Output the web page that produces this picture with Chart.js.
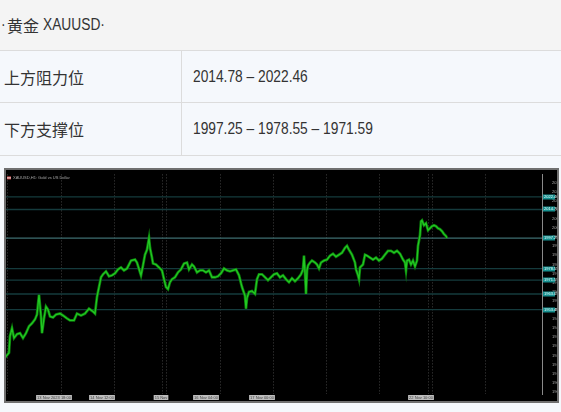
<!DOCTYPE html>
<html>
<head>
<meta charset="utf-8">
<script src="https://cdn.jsdelivr.net/npm/chart.js@4"></script>
<style>
body{margin:0;width:561px;height:412px;background:#f5f8fc;position:relative;overflow:hidden;color:#333;
  font-family:"Liberation Sans","Noto Sans CJK SC",sans-serif}
.row{position:absolute;left:0;width:561px;box-sizing:border-box;border-bottom:1px solid #dcdcdc}
.cell{position:absolute;top:0;bottom:0;display:flex;align-items:center;font-size:16px;white-space:nowrap}
.cjk{font-family:"Noto Sans CJK SC",sans-serif}
.lat{display:inline-block;transform:scaleX(.86);transform-origin:0 50%}
#box{position:absolute;left:4px;top:168px;width:555px;height:235px;box-sizing:border-box;border:2px solid #707070;background:#000}
#wrap{position:relative;width:551px;height:231px}
</style>
</head>
<body>
<div class="row" style="top:0;height:51px;background:#f4f4f4">
  <div class="cell" style="left:1px"><span class="lat" style="width:6px">·</span><span class="cjk">黄金&nbsp;</span><span class="lat">XAUUSD·</span></div>
</div>
<div class="row" style="top:51px;height:52px;background:#f5f8fc">
  <div class="cell cjk" style="left:4px">上方阻力位</div>
  <div class="cell" style="left:181px;border-left:1px solid #dcdcdc;padding-left:11px"><span class="lat">2014.78 – 2022.46</span></div>
</div>
<div class="row" style="top:103px;height:53px;background:#f5f8fc">
  <div class="cell cjk" style="left:4px">下方支撑位</div>
  <div class="cell" style="left:181px;border-left:1px solid #dcdcdc;padding-left:11px"><span class="lat">1997.25 – 1978.55 – 1971.59</span></div>
</div>
<div id="box"><div id="wrap"><canvas id="chart"></canvas></div></div>

<script>
// bar number on the time axis and close price of that bar
const bars = [5, 9, 10, 12, 14, 17, 20, 23, 26, 29, 32, 35, 37, 39, 41, 42, 44, 46, 48, 50,
  53, 56, 60, 63, 67, 70, 74, 77, 81, 85, 89, 93, 95, 97, 99, 101, 103, 106, 109, 112,
  115, 118, 121, 124, 127, 131, 135, 137, 141, 143, 145, 147, 149,
  150, 152, 153, 156, 159, 162, 164, 166, 168, 170, 172, 175, 178, 181, 184, 187, 189,
  192, 194, 197, 200, 203, 206, 209, 212, 215, 218, 221, 224, 227, 230, 233, 236, 239,
  242, 245, 246, 247, 249, 252, 255, 257, 259, 262, 265, 268, 271, 274, 277, 280, 283,
  286, 289, 292, 295, 298, 301, 303, 304, 305, 306, 307, 308, 310, 312, 315, 317, 319,
  321, 324, 327, 330, 333, 336, 339, 342, 345, 347, 349, 352, 355, 356, 358, 359, 360,
  363, 365, 367, 370, 373, 376, 379, 382, 385, 388, 391, 394, 397, 400, 403, 405, 406,
  407, 409, 411, 413, 415, 417, 418, 420, 421, 422, 424, 426, 428, 430, 432, 434, 436,
  438, 440, 442, 444, 446, 447];
const prices = [1924.1, 1927.1, 1937.3, 1942.1, 1936.1, 1938.5, 1939.1, 1936.1, 1939.1, 1943.3,
  1945.1, 1947.5, 1950.5, 1962.5, 1949.3, 1939.1, 1948.1, 1955.3, 1953.5, 1949.3,
  1948.7, 1950.5, 1951.1, 1949.9, 1948.1, 1946.9, 1946.9, 1951.1, 1949.9, 1951.1,
  1954.1, 1952.3, 1951.1, 1961.3, 1967.3, 1973.3, 1975.1, 1976.9, 1973.9, 1974.5,
  1975.7, 1978.1, 1979.3, 1977.5, 1978.7, 1983.5, 1984.1, 1982.3, 1974.5, 1980.5,
  1987.1, 1990.1, 1997.3,
  1991.3, 1985.3, 1981.7, 1981.1, 1979.3, 1977.5, 1972.1, 1967.3, 1966.1, 1970.3,
  1972.1, 1973.3, 1976.3, 1978.1, 1981.7, 1982.3, 1978.1,
  1981.1, 1979.9, 1976.3, 1977.5, 1977.5, 1976.3, 1977.5, 1973.3, 1973.3, 1973.9,
  1975.7, 1978.7, 1977.5, 1976.9, 1977.5, 1978.1, 1974.5,
  1967.3, 1961.9, 1954.1, 1960.7, 1964.3, 1964.9, 1963.1, 1972.1, 1975.1, 1975.1,
  1973.3, 1971.5, 1973.3, 1975.1, 1975.7, 1973.3, 1974.5,
  1972.1, 1970.3, 1972.7, 1970.9, 1972.7, 1975.1, 1978.1, 1986.5, 1976.3, 1963.1,
  1977.5, 1980.5, 1982.3, 1983.5, 1982.3, 1981.1, 1978.7,
  1982.3, 1983.5, 1984.1, 1986.5, 1987.7, 1985.9, 1987.1, 1988.3, 1991.3, 1992.5,
  1990.1, 1987.1, 1982.3, 1978.1, 1974.5, 1972.1, 1979.3,
  1981.1, 1987.1, 1986.5, 1985.3, 1984.1, 1985.3, 1983.5, 1984.7, 1987.1, 1989.5,
  1989.5, 1988.3, 1989.5, 1987.7, 1984.1, 1982.3, 1977.5,
  1983.5, 1984.1, 1981.1, 1983.5, 1979.9, 1983.5, 1992.5, 1999.1, 2007.5, 2008.1,
  2005.1, 2006.3, 2002.1, 2003.3, 2004.5, 2005.1, 2004.5,
  2003.3, 2002.7, 2001.5, 1999.7, 1998.5, 1997.3];

// resistance / support lines drawn on the chart
const levels = [2022.46, 2014.78, 1997.25, 1978.55, 1971.59, 1963.05, 1953.45];
const gridBars = [7, 61, 114, 162, 166, 220, 273, 326, 379, 428, 432, 485];
const yTicks = [2031.27, 2025.70, 2020.13, 2014.56, 2008.99, 2003.42, 1997.85, 1992.28,
  1986.71, 1981.14, 1975.57, 1970.00, 1964.43, 1958.86, 1953.29, 1947.72, 1942.15,
  1936.58, 1931.01, 1925.44, 1919.87, 1914.30, 1908.73, 1903.16];
const timeBars = [54, 102, 161, 206, 262, 421];
const timeLabels = ["13 Nov 2023 18:00", "14 Nov 12:00", "15 Nov", "16 Nov 04:00", "17 Nov 00:00", "22 Nov 10:00"];

const lastPrice = prices[prices.length - 1];

const overlay = {
  id: "overlay",
  afterDraw(chart) {
    const { ctx, chartArea, scales } = chart;
    ctx.save();
    ctx.font = "4px 'Liberation Sans'";
    ctx.textBaseline = "middle";
    // level tags on the price scale
    levels.forEach(lv => {
      const y = Math.round(scales.y.getPixelForValue(lv));
      ctx.fillStyle = "#16908f";
      ctx.fillRect(chartArea.right + 1, y - 2.5, 12, 5);
      ctx.fillStyle = "#e8ffff";
      ctx.textAlign = "left";
      ctx.fillText(lv.toFixed(2), chartArea.right + 2, y);
    });
    // time labels
    timeBars.forEach((b, i) => {
      const x = scales.x.getPixelForValue(b);
      const w = ctx.measureText(timeLabels[i]).width + 2;
      ctx.fillStyle = "#bdbdbd";
      ctx.fillRect(x - w / 2, chartArea.bottom + 1, w, 5);
      ctx.fillStyle = "#444";
      ctx.textAlign = "center";
      ctx.fillText(timeLabels[i], x, chartArea.bottom + 3.5);
    });
    // symbol caption
    ctx.fillStyle = "#d04848";
    ctx.fillRect(chartArea.left + 1, chartArea.top + 2, 4, 3);
    ctx.fillStyle = "#e0e0e0";
    ctx.fillRect(chartArea.left + 1, chartArea.top + 3, 4, 1);
    ctx.fillStyle = "#a8a8a8";
    ctx.textAlign = "left";
    ctx.fillText("XAUUSD,H1: Gold vs US Dollar", chartArea.left + 7, chartArea.top + 3.5);
    ctx.restore();
  }
};

const pricePoints = bars.map((b, i) => ({ x: b, y: prices[i] }));
const datasets = [{
  data: pricePoints,
  borderColor: "#22c822",
  borderWidth: 1.3,
  pointRadius: 0,
  order: 0
}, {
  data: pricePoints,
  borderColor: "#0b7a0b",
  borderWidth: 2.8,
  pointRadius: 0,
  order: 1
}];
levels.forEach(lv => {
  datasets.push({
    data: [{ x: 0, y: lv }, { x: 600, y: lv }],
    borderColor: Math.abs(lv - lastPrice) < 0.1 ? "#3e6e70" : "#153b3d",
    borderWidth: 1.3,
    pointRadius: 0,
    order: 2
  });
});

new Chart(document.getElementById("chart"), {
  type: "line",
  data: { datasets },
  options: {
    responsive: true,
    maintainAspectRatio: false,
    animation: false,
    devicePixelRatio: 1,
    layout: { padding: 0 },
    plugins: { legend: { display: false }, tooltip: { enabled: false } },
    scales: {
      x: {
        type: "linear",
        min: 6,
        max: 542,
        afterBuildTicks: s => { s.ticks = gridBars.map(v => ({ value: v })); },
        afterFit: s => { s.height = 7; },
        ticks: { display: false },
        grid: { color: "#404040", lineWidth: 1, drawTicks: false },
        border: { display: false, dash: [1, 2] }
      },
      y: {
        position: "right",
        min: 1901.85,
        max: 2036.25,
        afterBuildTicks: s => { s.ticks = yTicks.map(v => ({ value: v })); },
        afterFit: s => { s.width = 15; },
        ticks: {
          color: "#b0b0b0",
          font: { size: 4, family: "Liberation Sans" },
          padding: 2,
          crossAlign: "near",
          callback: v => v.toFixed(2)
        },
        grid: { display: false },
        border: { color: "#8a8a8a", width: 1 }
      }
    }
  },
  plugins: [overlay]
});
</script>
</body>
</html>
